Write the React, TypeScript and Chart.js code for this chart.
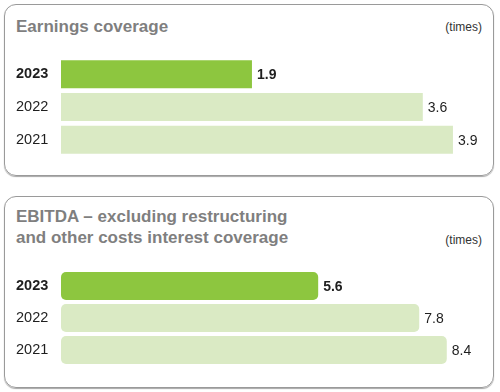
import React, { useEffect, useRef } from "react";
import { Chart, registerables } from "chart.js";

Chart.register(...registerables);

const categories = ["2023", "2022", "2021"];
const earningsValues = [1.9, 3.6, 3.9];
const ebitdaValues = [5.6, 7.8, 8.4];
const earningsTitle = ["Earnings coverage"];
const ebitdaTitle = ["EBITDA – excluding restructuring", "and other costs interest coverage"];
const unitLabel = "(times)";

const DARK = "rgb(141,198,63)";
const LIGHT = "rgb(218,234,196)";
const FONT = "'Liberation Sans', Arial, Helvetica, sans-serif";

const valueLabels = {
  id: "valueLabels",
  afterDatasetsDraw(chart: any) {
    const ctx = chart.ctx;
    const meta = chart.getDatasetMeta(0);
    const data = chart.data.datasets[0].data;
    ctx.save();
    ctx.textBaseline = "middle";
    ctx.textAlign = "left";
    ctx.fillStyle = "#1f1f1f";
    meta.data.forEach((bar: any, i: number) => {
      ctx.font = `${i === 0 ? "bold " : ""}14px ${FONT}`;
      ctx.fillText(String(data[i].toFixed(1)), bar.x + 5, bar.y + 1);
    });
    ctx.restore();
  },
};

function BarPanel(props: { values: number[]; max: number; padRight: number; height: number; radius: number; barPct: number }) {
  const ref = useRef<HTMLCanvasElement>(null);
  useEffect(() => {
    const chart = new Chart(ref.current!, {
      type: "bar",
      data: {
        labels: categories,
        datasets: [
          {
            data: props.values,
            backgroundColor: props.values.map((_, i) => (i === 0 ? DARK : LIGHT)),
            barPercentage: props.barPct,
            categoryPercentage: 1,
            borderRadius: props.radius,
            borderSkipped: false,
          },
        ],
      },
      options: {
        indexAxis: "y",
        responsive: false,
        animation: false,
        layout: { padding: { left: 16, right: props.padRight, top: 0, bottom: 0 } },
        plugins: { legend: { display: false }, tooltip: { enabled: false }, title: { display: false } },
        scales: {
          x: { display: false, min: 0, max: props.max },
          y: {
            grid: { display: false },
            border: { display: false },
            ticks: {
              crossAlign: "far",
              padding: 0,
              color: "#1f1f1f",
              font: (c: any) => ({ family: FONT, size: 14.5, weight: c.index === 0 ? "bold" : "normal" }),
            },
            afterFit: (s: any) => {
              s.width = 45;
              s.paddingTop = 0;
              s.paddingBottom = 0;
            },
          },
        },
      },
      plugins: [valueLabels],
    } as any);
    return () => chart.destroy();
  }, []);
  return <canvas ref={ref} width={500} height={props.height} style={{ width: 500, height: props.height, display: "block" }} />;
}

const panelStyle: React.CSSProperties = {
  position: "absolute",
  left: 4,
  width: 488,
  border: "1px solid #9a9a9a",
  borderRadius: 12,
  boxShadow: "0 1px 1px rgba(0,0,0,0.35)",
  boxSizing: "content-box",
};

const titleStyle: React.CSSProperties = {
  position: "absolute",
  left: 16,
  fontFamily: FONT,
  fontWeight: "bold",
  fontSize: 17,
  lineHeight: "21px",
  color: "#7f7f7f",
  whiteSpace: "nowrap",
};

const unitStyle: React.CSSProperties = {
  position: "absolute",
  right: 18,
  fontFamily: FONT,
  fontSize: 12,
  lineHeight: "14px",
  color: "#333",
};

export default function App() {
  return (
    <div style={{ position: "absolute", left: 0, top: 0, width: 500, height: 392, background: "#fff", overflow: "hidden" }}>
      <div style={{ ...panelStyle, top: 4, height: 170 }} />
      <div style={{ ...panelStyle, top: 196, height: 190 }} />
      <div style={{ ...titleStyle, top: 16 }}>
        {earningsTitle.map((t) => (
          <div key={t}>{t}</div>
        ))}
      </div>
      <div style={{ ...unitStyle, top: 20 }}>{unitLabel}</div>
      <div style={{ ...titleStyle, top: 206 }}>
        {ebitdaTitle.map((t) => (
          <div key={t}>{t}</div>
        ))}
      </div>
      <div style={{ ...unitStyle, top: 233 }}>{unitLabel}</div>
      <div style={{ position: "absolute", left: 0, top: 58 }}>
        <BarPanel values={earningsValues} max={4.3} padRight={6.85} height={98} radius={0} barPct={28 / 32.67} />
      </div>
      <div style={{ position: "absolute", left: 0, top: 270 }}>
        <BarPanel values={ebitdaValues} max={9.4} padRight={7.3} height={96} radius={5} barPct={28 / 32} />
      </div>
    </div>
  );
}
